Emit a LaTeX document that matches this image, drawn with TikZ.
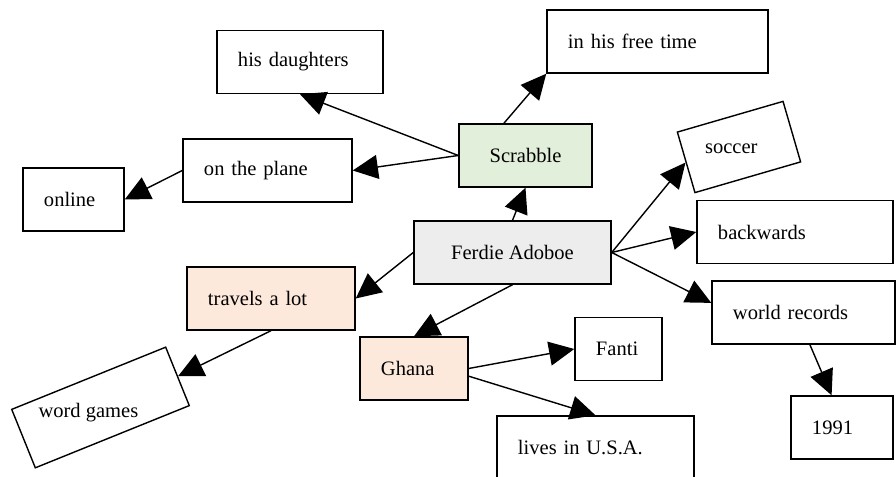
\documentclass[tikz,border=0pt]{standalone}
\usepackage{fontspec}
\setmainfont{Liberation Serif}
\usetikzlibrary{arrows.meta}
\definecolor{scrabblegreen}{RGB}{226,239,218}
\definecolor{hubgray}{RGB}{237,237,237}
\definecolor{peach}{RGB}{252,233,219}
\begin{document}
\begin{tikzpicture}[x=0.025cm, y=-0.025cm, font=\fontsize{14.6}{17}\selectfont,
  box/.style={draw, line width=1pt, minimum height=1.575cm, inner ysep=0pt},
  leaf/.style={box, align=left, inner xsep=0.525cm},
  link/.style={line width=1pt, -{Triangle[length=0.63cm, width=0.6cm]}}]
  \useasboundingbox (0,0) rectangle (896,477);

  % middle
  \node[box, fill=hubgray, minimum width=4.925cm] (ferdie) at (512.5,252.5) {Ferdie Adoboe};
  \node[box, fill=scrabblegreen, minimum width=3.325cm] (scrabble) at (525.5,155.5) {Scrabble};

  % upper left
  \node[leaf, text width=3.1cm] (daughters) at (300,62) {his daughters};
  \node[leaf, text width=3.175cm] (plane) at (267.5,170.5) {on the plane};
  \node[leaf, text width=1.475cm] (online) at (73.5,199.5) {online};
  \node[leaf, text width=4.475cm] (freetime) at (657.5,41.5) {in his free time};

  % right
  \node[box, rotate=16.2, minimum width=2.75cm] (soccer) at (739,147) {\rotatebox{-16.2}{soccer}\hspace*{0.4cm}};
  \node[leaf, text width=3.85cm] (backwards) at (795,232) {backwards};
  \node[leaf, text width=3.525cm] (records) at (803.5,312.5) {world records};
  \node[leaf, text width=1.5cm] (year) at (842,427.5) {1991};

  % lower left
  \node[leaf, fill=peach, text width=3.15cm] (travels) at (271,298.5) {travels a lot};
  \node[box, rotate=22, minimum width=4.15cm] (games) at (100.5,407.5) {\rotatebox{-22}{word games}\hspace*{0.65cm}};
  \node[leaf, fill=peach, text width=1.65cm] (ghana) at (414,368.5) {Ghana};
  \node[leaf, text width=1.125cm] (fanti) at (618.5,349) {Fanti};
  \node[leaf, text width=3.875cm] (lives) at (595.5,447.5) {lives in U.S.A.};

  % links
  \foreach \a/\b in {ferdie.north/scrabble.south, scrabble.west/daughters.south,
      scrabble.west/plane.east, plane.west/online.east, ferdie.east/soccer.west,
      ferdie.east/backwards.west, ferdie.west/travels.east, ferdie.south/ghana.north,
      travels.south/games.east, ghana.east/fanti.west, ghana.-8/lives.north}
    \draw[link] (\a) -- (\b);
  \draw[link] ([xshift=-0.54cm]scrabble.north) -- (freetime.south west);
  \draw[link] (ferdie.east) -- ([yshift=0.24cm]records.west);
  \draw[link] ([xshift=0.16cm]records.south) -- ([xshift=-0.26cm]year.north);
\end{tikzpicture}
\end{document}
